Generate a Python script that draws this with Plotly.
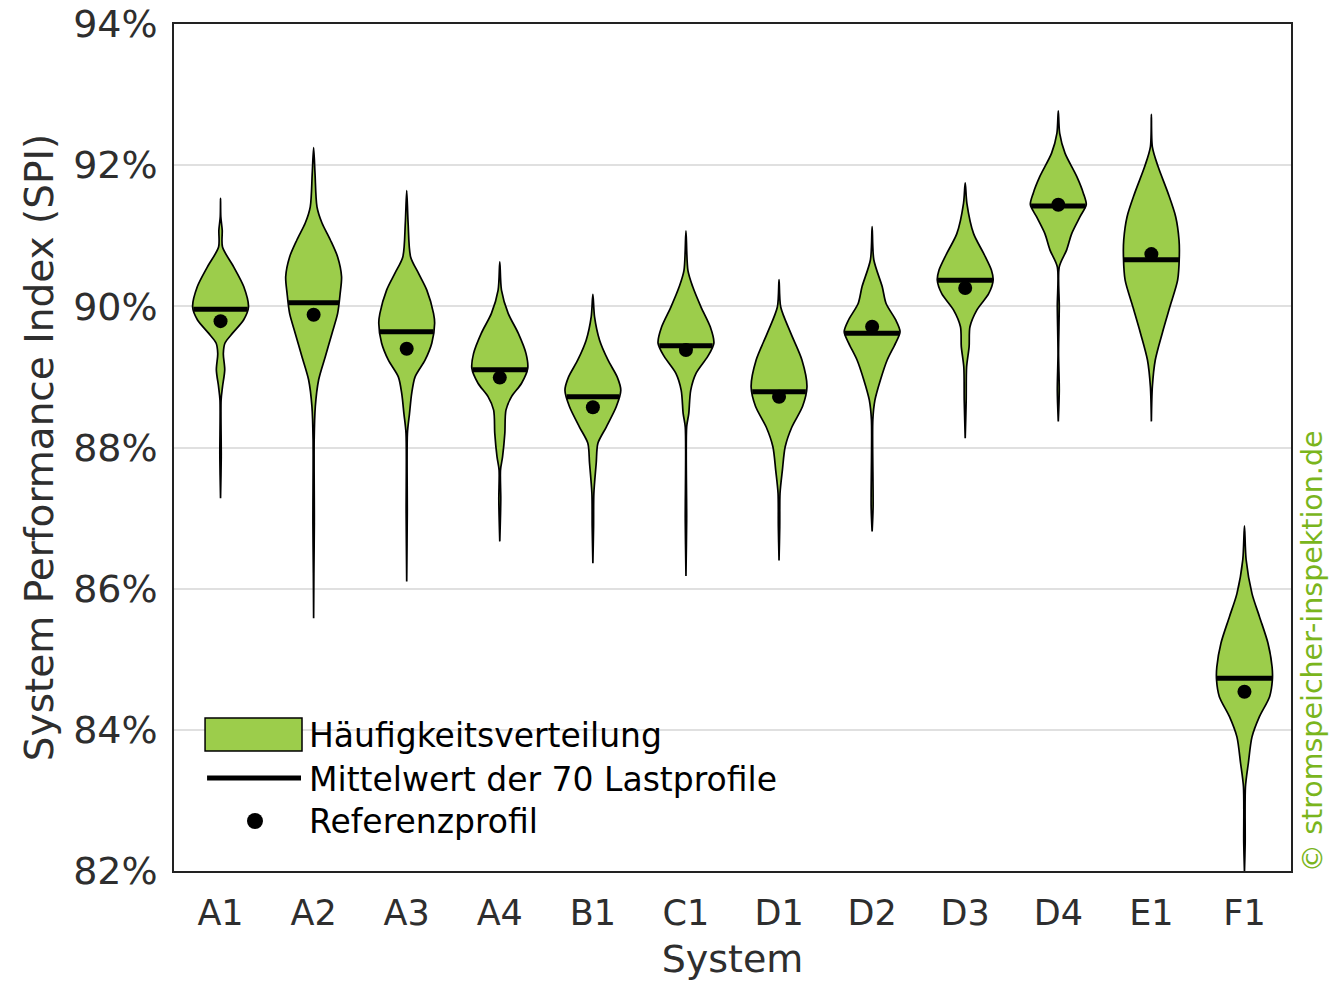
import numpy as np
import plotly.graph_objects as go

# ---------------- data ----------------
systems = ["A1", "A2", "A3", "A4", "B1", "C1", "D1", "D2", "D3", "D4", "E1", "F1"]
mean_spi = [89.96, 90.05, 89.64, 89.10, 88.72, 89.44, 88.79, 89.62, 90.37, 91.42, 90.66, 84.73]
ref_spi = [89.79, 89.88, 89.40, 88.99, 88.57, 89.38, 88.72, 89.71, 90.26, 91.44, 90.74, 84.54]

# violin profiles: SPI level (%) and relative density (1 = widest point)
y_A1 = [91.53, 91.27, 91.08, 90.84, 90.56, 90.28, 89.99, 89.81, 89.62, 89.48, 89.33, 89.10, 88.86, 88.67, 87.87, 87.28]
w_A1 = [0.0, 0.01, 0.06, 0.07, 0.47, 0.83, 1.0, 0.83, 0.43, 0.16, 0.10, 0.15, 0.07, 0.02, 0.025, 0.0]

y_A2 = [92.25, 91.88, 91.41, 91.18, 90.94, 90.70, 90.42, 90.18, 89.90, 89.62, 89.29, 88.96, 88.58, 88.11, 86.93, 86.22, 85.58]
w_A2 = [0.0, 0.05, 0.12, 0.30, 0.60, 0.86, 1.0, 0.95, 0.86, 0.66, 0.42, 0.18, 0.06, 0.02, 0.025, 0.01, 0.0]

y_A3 = [91.64, 91.18, 90.70, 90.47, 90.23, 89.90, 89.76, 89.48, 89.24, 89.00, 88.77, 88.48, 88.20, 87.07, 86.10]
w_A3 = [0.0, 0.05, 0.14, 0.42, 0.72, 0.96, 1.0, 0.90, 0.66, 0.30, 0.18, 0.10, 0.025, 0.02, 0.0]

y_A4 = [90.63, 90.23, 89.90, 89.62, 89.33, 89.12, 88.91, 88.72, 88.53, 88.20, 87.87, 87.68, 87.26, 86.67]
w_A4 = [0.0, 0.06, 0.30, 0.66, 0.94, 1.0, 0.78, 0.42, 0.22, 0.18, 0.10, 0.025, 0.035, 0.0]

y_B1 = [90.17, 89.85, 89.52, 89.24, 89.00, 88.81, 88.58, 88.29, 88.06, 87.78, 87.35, 86.88, 86.36]
w_B1 = [0.0, 0.06, 0.24, 0.54, 0.87, 1.0, 0.84, 0.48, 0.18, 0.12, 0.035, 0.025, 0.0]

y_C1 = [91.07, 90.51, 90.28, 89.99, 89.71, 89.48, 89.29, 89.05, 88.81, 88.48, 88.29, 86.97, 86.18]
w_C1 = [0.0, 0.07, 0.24, 0.54, 0.87, 1.0, 0.78, 0.36, 0.17, 0.10, 0.025, 0.025, 0.0]

y_D1 = [90.38, 89.99, 89.62, 89.24, 88.86, 88.58, 88.29, 88.01, 87.68, 87.35, 86.88, 86.40]
w_D1 = [0.0, 0.06, 0.42, 0.82, 1.0, 0.84, 0.46, 0.22, 0.12, 0.035, 0.025, 0.0]

y_D2 = [91.13, 90.66, 90.28, 90.04, 89.81, 89.64, 89.48, 89.24, 88.96, 88.67, 88.39, 87.16, 86.81]
w_D2 = [0.0, 0.06, 0.36, 0.50, 0.84, 1.0, 0.84, 0.54, 0.30, 0.10, 0.025, 0.035, 0.0]

y_D3 = [91.75, 91.46, 91.03, 90.75, 90.51, 90.37, 90.18, 89.95, 89.71, 89.43, 89.14, 88.67, 88.13]
w_D3 = [0.0, 0.06, 0.30, 0.66, 0.94, 1.0, 0.84, 0.42, 0.17, 0.14, 0.05, 0.035, 0.0]

y_D4 = [92.77, 92.45, 92.17, 91.84, 91.60, 91.44, 91.27, 91.03, 90.80, 90.56, 89.99, 89.33, 88.81, 88.37]
w_D4 = [0.0, 0.05, 0.24, 0.66, 0.90, 1.0, 0.78, 0.48, 0.30, 0.035, 0.035, 0.01, 0.035, 0.0]

y_E1 = [92.72, 92.26, 91.98, 91.60, 91.27, 90.94, 90.70, 90.37, 89.99, 89.62, 89.24, 88.86, 88.37]
w_E1 = [0.0, 0.035, 0.24, 0.60, 0.87, 0.99, 1.0, 0.94, 0.66, 0.39, 0.14, 0.035, 0.0]

y_F1 = [86.89, 86.41, 85.93, 85.60, 85.23, 84.89, 84.71, 84.47, 84.19, 83.90, 83.53, 83.19, 82.39, 81.99]
w_F1 = [0.0, 0.06, 0.27, 0.54, 0.84, 0.99, 1.0, 0.90, 0.54, 0.27, 0.14, 0.035, 0.025, 0.0]

y_ticks = [82, 84, 86, 88, 90, 92, 94]

legend_labels = ["Häufigkeitsverteilung", "Mittelwert der 70 Lastprofile", "Referenzprofil"]
watermark = "© stromspeicher-inspektion.de"

profiles_y = [y_A1, y_A2, y_A3, y_A4, y_B1, y_C1, y_D1, y_D2, y_D3, y_D4, y_E1, y_F1]
profiles_w = [w_A1, w_A2, w_A3, w_A4, w_B1, w_C1, w_D1, w_D2, w_D3, w_D4, w_E1, w_F1]

# ---------------- styling ----------------
GREEN = "#9ccd4b"
TEXT = "#2e2e2e"
FONT = "DejaVu Sans"
HALF = 0.30  # max half-width of a violin in category units

fig = go.Figure()

for i, (ys, ws) in enumerate(zip(profiles_y, profiles_w)):
    ys = np.array(ys, dtype=float)
    ws = np.array(ws, dtype=float) * HALF
    xs = np.concatenate([i + ws, (i - ws)[::-1]])
    yy = np.concatenate([ys, ys[::-1]])
    fig.add_trace(go.Scatter(
        x=xs, y=yy, mode="lines", fill="toself", fillcolor=GREEN,
        line=dict(color="black", width=1.7, shape="spline", smoothing=0.8),
        hoverinfo="skip", showlegend=False,
    ))
    # mean line spanning the violin at the mean level
    half_at_mean = np.interp(mean_spi[i], ys[::-1], ws[::-1])
    fig.add_trace(go.Scatter(
        x=[i - half_at_mean, i + half_at_mean], y=[mean_spi[i], mean_spi[i]],
        mode="lines", line=dict(color="black", width=5),
        hoverinfo="skip", showlegend=False,
    ))

fig.add_trace(go.Scatter(
    x=list(range(len(systems))), y=ref_spi, mode="markers",
    marker=dict(color="black", size=14), showlegend=False,
))

# ---------------- manual legend ----------------
fig.add_shape(type="rect", xref="paper", yref="paper",
              x0=0.0278, x1=0.1146, y0=0.1417, y1=0.1806,
              fillcolor=GREEN, line=dict(color="black", width=1.5))
fig.add_shape(type="line", xref="paper", yref="paper",
              x0=0.0296, x1=0.1137, y0=0.1098, y1=0.1098,
              line=dict(color="black", width=5))
fig.add_shape(type="circle", xref="paper", yref="paper",
              xsizemode="pixel", ysizemode="pixel",
              xanchor=0.0725, yanchor=0.059, x0=-8, x1=8, y0=-8, y1=8,
              fillcolor="black", line=dict(color="black", width=0))
for lab, yy in zip(legend_labels, [0.1594, 0.1086, 0.0579]):
    fig.add_annotation(text=lab, xref="paper", yref="paper", x=0.1195, y=yy,
                       xanchor="left", yanchor="middle", showarrow=False,
                       font=dict(family=FONT, size=33, color="black"))

fig.add_annotation(text=watermark, xref="paper", yref="paper", x=1.0188, y=-0.004,
                   xanchor="center", yanchor="bottom", textangle=-90, showarrow=False,
                   font=dict(family=FONT, size=28.5, color="#7ab51d"))

fig.update_layout(
    width=1335, height=981,
    margin=dict(l=174, r=44, t=24, b=110, autoexpand=False),
    paper_bgcolor="white", plot_bgcolor="white",
    font=dict(family=FONT, color=TEXT),
    showlegend=False,
)
fig.update_xaxes(
    range=[-0.5, len(systems) - 0.5], tickmode="array",
    tickvals=list(range(len(systems))), ticktext=systems,
    showgrid=False, zeroline=False, ticks="", automargin=False,
    showline=True, linecolor="#222", linewidth=1.5, mirror=True,
    tickfont=dict(size=35, color=TEXT), ticklabelstandoff=10,
    title=dict(text="System", font=dict(size=38, color=TEXT), standoff=18),
)
fig.update_yaxes(
    range=[82, 94], tickmode="array", tickvals=y_ticks,
    ticktext=[f"{v}%" for v in y_ticks],
    showgrid=True, gridcolor="#e0e0e0", gridwidth=1.5, zeroline=False, ticks="",
    automargin=False,
    showline=True, linecolor="#222", linewidth=1.5, mirror=True,
    tickfont=dict(size=38, color=TEXT), ticklabelstandoff=7,
    title=dict(text="System Performance Index (SPI)", font=dict(size=39, color=TEXT), standoff=8),
)

fig.write_html(
    "out.html",
    config={"displayModeBar": False},
    post_script="document.body.style.margin='0';document.body.style.overflow='hidden';",
)
